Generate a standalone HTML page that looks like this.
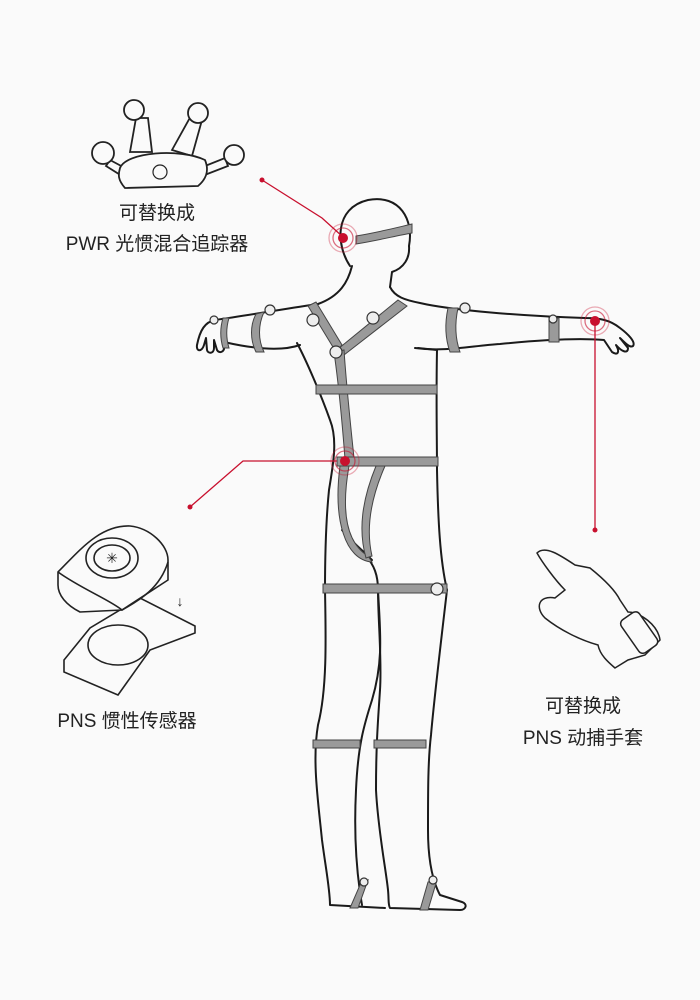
<!DOCTYPE html>
<html><head><meta charset="utf-8"><style>
body{margin:0;background:#fafafa;}
svg{display:block}
text{font-family:"Liberation Sans","Noto Sans CJK SC",sans-serif;fill:#222;font-size:19px;text-anchor:middle}
</style></head><body>
<svg width="700" height="1000" viewBox="0 0 700 1000" xmlns="http://www.w3.org/2000/svg">
<rect width="700" height="1000" fill="#fafafa"/>
<g fill="none" stroke="#1a1a1a" stroke-width="2" stroke-linejoin="round" stroke-linecap="round">
<path d="M350,266 C336,245 334,208 368,200 C400,194 414,220 409,246 C410,258 404,268 392,272 L390,287"/>
<path d="M352,266 C348,282 340,296 318,304"/>
<path d="M318,304 C290,308 250,315 215,320 C205,322 200,330 197,345 C196,352 202,352 204,345 L206,338 L207,350 C208,354 214,354 214,348 L214,340 L217,350 C219,354 225,352 224,346 L224,342 C250,348 280,352 300,345"/>
<path d="M297,343 C306,360 320,392 330,420 C338,440 333,465 329,490 C326,520 325,560 325,590"/>
<path d="M390,287 C395,297 405,300 420,303 C450,310 520,316 585,318 C600,318 610,320 620,328 C628,334 636,342 633,346 C630,348 626,344 620,338 L628,348 C628,354 622,352 616,345 C620,352 618,356 612,352 L604,340 C580,338 540,340 500,344 C470,346 445,352 415,348"/>
<path d="M418,348 L437,350 C436,400 437,440 437,470 C438,520 440,560 447,590"/>
<path d="M372,560 C360,548 350,540 342,530"/>
<path d="M366,556 C374,565 378,575 378,590"/>
<path d="M325,590 C326,640 327,690 318,725 C312,760 318,800 322,840 C326,870 330,890 330,905 L385,908"/>
<path d="M378,590 C380,630 384,660 372,700 C364,725 358,745 356,790 C354,830 356,870 362,905"/>
<path d="M378,590 C378,620 382,660 380,690 C378,720 376,745 376,790 C378,830 386,870 388,890 C389,900 388,905 390,908 L460,910 C466,910 468,904 462,902 L440,895 C432,880 428,860 428,830 C428,790 428,760 431,735 C434,700 440,650 447,590"/>
</g>
<g fill="#9a9a9a" stroke="#444" stroke-width="1">
<path d="M356,236 C380,232 395,228 412,224 L412,233 C395,236 380,240 356,244 Z"/>
<path d="M308,306 L316,302 L342,345 L336,352 Z"/>
<path d="M398,300 L407,306 L344,355 L338,349 Z"/>
<path d="M334,352 L344,350 C346,380 350,420 354,458 L345,459 C342,420 338,380 334,352 Z"/>
<rect x="316" y="385" width="121" height="9"/>
<rect x="337" y="457" width="101" height="9"/>
<path d="M340,466 L349,466 C343,500 342,540 368,556 L372,562 C345,560 333,520 340,466 Z"/>
<path d="M376,466 L385,466 C370,500 366,530 372,556 L366,558 C358,530 362,500 376,466 Z"/>
<rect x="323" y="584" width="124" height="9"/>
<rect x="313" y="740" width="47" height="8"/>
<rect x="374" y="740" width="52" height="8"/>
<path d="M256,314 L264,312 C258,325 258,340 264,352 L256,352 C250,340 250,325 256,314 Z"/>
<path d="M223,318 L229,318 C226,328 226,338 229,348 L223,348 C220,338 220,328 223,318 Z"/>
<path d="M448,308 L458,308 C455,322 455,338 460,352 L450,352 C445,338 445,322 448,308 Z"/>
<rect x="549" y="318" width="10" height="24"/>
<path d="M360,885 L368,880 L358,908 L350,908 Z"/>
<path d="M428,882 L437,880 L428,910 L420,910 Z"/>
</g>
<g fill="#eee" stroke="#333" stroke-width="1.2">
<circle cx="313" cy="320" r="6"/><circle cx="373" cy="318" r="6"/><circle cx="336" cy="352" r="6"/>
<circle cx="270" cy="310" r="5"/><circle cx="465" cy="308" r="5"/><circle cx="437" cy="589" r="6"/>
<circle cx="214" cy="320" r="4"/><circle cx="553" cy="319" r="4"/>
<circle cx="364" cy="882" r="4"/><circle cx="433" cy="880" r="4"/>
</g>
<g stroke="#c8102e" stroke-width="1.3" fill="none">
<polyline points="262,180 322,218 343,237"/>
<polyline points="190,507 243,461 337,461"/>
<line x1="595" y1="321" x2="595" y2="530"/>
<circle cx="343" cy="238" r="10" stroke-opacity="0.6"/><circle cx="343" cy="238" r="14" stroke-opacity="0.35"/>
<circle cx="345" cy="461" r="10" stroke-opacity="0.6"/><circle cx="345" cy="461" r="14" stroke-opacity="0.35"/>
<circle cx="595" cy="321" r="10" stroke-opacity="0.6"/><circle cx="595" cy="321" r="14" stroke-opacity="0.35"/>
</g>
<g fill="#c8102e">
<circle cx="343" cy="238" r="5"/><circle cx="345" cy="461" r="5"/><circle cx="595" cy="321" r="5"/>
<circle cx="262" cy="180" r="2.5"/><circle cx="190" cy="507" r="2.5"/><circle cx="595" cy="530" r="2.5"/>
</g>
<g fill="#fafafa" stroke="#222" stroke-width="1.8">
<path d="M130,152 L136,118 L148,118 L152,152 Z"/>
<path d="M172,150 L192,114 L202,120 L192,156 Z"/>
<path d="M110,160 L125,168 L122,176 L106,166 Z"/>
<path d="M200,168 L225,158 L228,166 L202,176 Z"/>
<path d="M120,168 C126,152 180,148 205,160 C210,172 205,180 198,186 L125,188 C118,180 118,175 120,168 Z"/>
<circle cx="134" cy="110" r="10"/><circle cx="198" cy="113" r="10"/>
<circle cx="103" cy="153" r="11"/><circle cx="234" cy="155" r="10"/>
<circle cx="160" cy="172" r="7" stroke-width="1.2"/>
</g>
<text x="157" y="219">可替换成</text>
<text x="157" y="250">PWR 光惯混合追踪器</text>
<g fill="#fafafa" stroke="#222" stroke-width="1.6">
<path d="M64,660 L64,672 L118,695 L150,650 L195,633 L195,626 L140,598 L90,628 Z"/>
<ellipse cx="118" cy="645" rx="30" ry="20"/>
<path d="M58,572 C80,550 100,525 130,526 C150,528 168,545 168,560 L168,580 L122,610 L80,612 C66,605 58,595 58,585 Z"/>
<path d="M58,572 C80,588 110,600 122,610 C140,600 160,588 168,562" fill="none"/>
<ellipse cx="112" cy="558" rx="26" ry="20"/>
<ellipse cx="112" cy="558" rx="18" ry="13"/>
</g>
<text x="112" y="563" style="font-size:14px">✳</text>
<text x="180" y="606" style="font-size:14px">↓</text>
<text x="127" y="727">PNS 惯性传感器</text>
<g fill="#fafafa" stroke="#222" stroke-width="1.5">
<path d="M537,553 C545,545 560,555 575,565 L590,568 C605,580 615,590 620,600 L628,612 C640,612 658,625 660,640 L645,655 L628,660 L615,668 C608,662 600,655 598,645 C580,640 560,630 545,618 C535,608 538,595 555,598 L565,590 C555,580 542,562 537,553 Z"/>
<rect x="628" y="612" width="22" height="40" rx="5" transform="rotate(-35 640 632)"/>
</g>
<text x="583" y="712">可替换成</text>
<text x="583" y="744">PNS 动捕手套</text>
</svg>
</body></html>
